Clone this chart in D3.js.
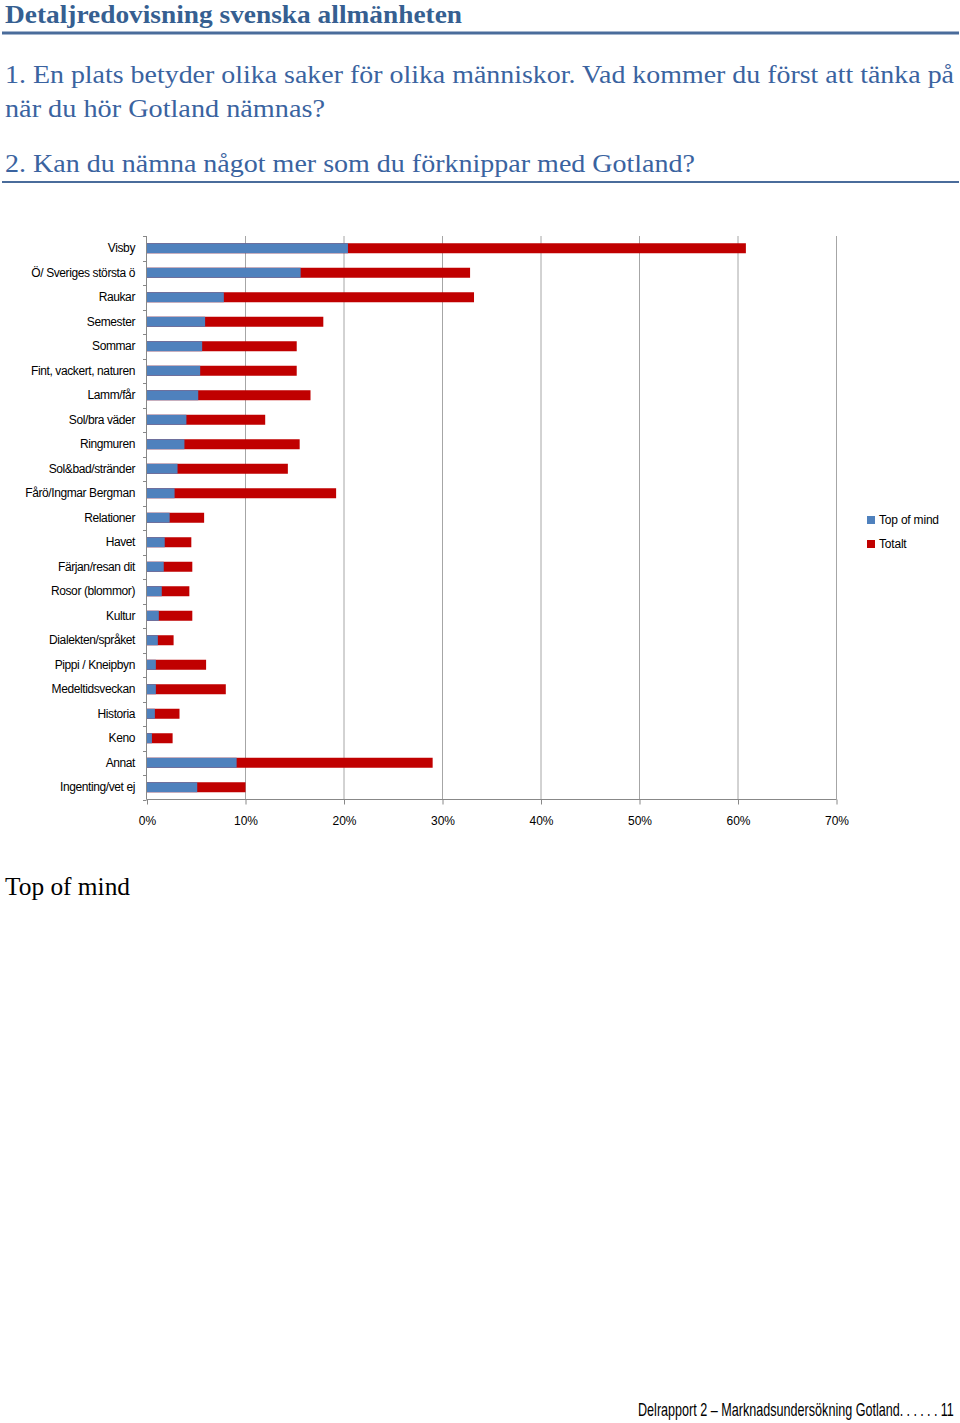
<!DOCTYPE html>
<html><head><meta charset="utf-8">
<script src="https://cdn.jsdelivr.net/npm/d3@7"></script>
<style>
html,body{margin:0;padding:0;background:#fff;}
svg{display:block;}
</style></head>
<body>
<div id="chart"></div>
<script>
const categories = ["Visby","Ö/ Sveriges största ö","Raukar","Semester","Sommar","Fint, vackert, naturen","Lamm/får","Sol/bra väder","Ringmuren","Sol&bad/stränder","Fårö/Ingmar Bergman","Relationer","Havet","Färjan/resan dit","Rosor (blommor)","Kultur","Dialekten/språket","Pippi / Kneipbyn","Medeltidsveckan","Historia","Keno","Annat","Ingenting/vet ej"];
const topOfMind = [20.4,15.6,7.8,5.9,5.6,5.4,5.2,4.0,3.8,3.1,2.8,2.3,1.8,1.7,1.5,1.2,1.1,0.9,0.9,0.8,0.5,9.1,5.1];
const totalt = [60.8,32.8,33.2,17.9,15.2,15.2,16.6,12.0,15.5,14.3,19.2,5.8,4.5,4.6,4.3,4.6,2.7,6.0,8.0,3.3,2.6,29.0,10.0];
const xTicks = [0,10,20,30,40,50,60,70];
const seriesNames = ["Top of mind","Totalt"];
const colors = ["#4F81BD","#C00000"];

const W = 960, H = 1423;
const svg = d3.select("#chart").append("svg").attr("width",W).attr("height",H);
const serif = "'Liberation Serif','Times New Roman',serif";
const sans = "'Liberation Sans',Arial,sans-serif";

function stretchText(txt, xx, yy, size, len, fill, weight){
  return svg.append("text").attr("x",xx).attr("y",yy).attr("font-family",serif)
    .attr("font-size",size).attr("font-weight",weight||"normal").attr("fill",fill)
    .attr("textLength",len).attr("lengthAdjust","spacingAndGlyphs").text(txt);
}

// Header
stretchText("Detaljredovisning svenska allmänheten",5,23,25,457,"#365F91","bold");
svg.append("rect").attr("x",2).attr("y",31.5).attr("width",957).attr("height",3).attr("fill","#4A6C9B");

const qColor = "#3A63A0";
stretchText("1. En plats betyder olika saker för olika människor. Vad kommer du först att tänka på",5,83,25.5,949,qColor);
stretchText("när du hör Gotland nämnas?",5,117,25.5,320,qColor);
stretchText("2. Kan du nämna något mer som du förknippar med Gotland?",5,172,25.5,690,qColor);
svg.append("rect").attr("x",2).attr("y",181).attr("width",957).attr("height",2).attr("fill","#4A6C9B");

// Chart
const x = d3.scaleLinear().domain([0,70]).range([147,836.5]);
const band = d3.scaleBand().domain(categories).range([236,799.5]);

// gridlines
svg.append("g").selectAll("line").data(xTicks.slice(1)).join("line")
  .attr("x1",d=>x(d)).attr("x2",d=>x(d)).attr("y1",236).attr("y2",799.5)
  .attr("stroke","#A6A6A6").attr("stroke-width",1);

const bh = 10;
const barG = svg.append("g");
barG.selectAll("rect.tot").data(categories).join("rect").attr("class","tot")
  .attr("x",x(0)).attr("y",d=>band(d)+band.bandwidth()/2-bh/2)
  .attr("width",(d,i)=>x(totalt[i])-x(0)).attr("height",bh).attr("fill",colors[1]);
barG.selectAll("rect.top").data(categories).join("rect").attr("class","top")
  .attr("x",x(0)).attr("y",d=>band(d)+band.bandwidth()/2-bh/2)
  .attr("width",(d,i)=>x(topOfMind[i])-x(0)).attr("height",bh).attr("fill",colors[0]);

// y axis
const yAxisG = svg.append("g");
yAxisG.append("line").attr("x1",146.5).attr("x2",146.5).attr("y1",236).attr("y2",799.5).attr("stroke","#888").attr("stroke-width",1);
const bounds = categories.map(c=>band(c)).concat([799.5]);
yAxisG.selectAll("line.tk").data(bounds).join("line").attr("class","tk")
  .attr("x1",143).attr("x2",146.5).attr("y1",d=>Math.round(d)+0.5).attr("y2",d=>Math.round(d)+0.5).attr("stroke","#888");
yAxisG.selectAll("text").data(categories).join("text")
  .attr("x",135).attr("y",d=>band(d)+band.bandwidth()/2+4)
  .attr("text-anchor","end").attr("font-family",sans).attr("font-size",12).attr("letter-spacing",-0.4)
  .attr("fill","#000").text(d=>d);

// x axis
const xAxis = d3.axisBottom(x).tickValues(xTicks).tickFormat(d=>d+"%").tickSize(5).tickPadding(12);
const xg = svg.append("g").attr("transform","translate(0,799.5)").call(xAxis);
xg.select(".domain").attr("stroke","#888").attr("d","M146.5,0H836.5");
xg.selectAll(".tick line").attr("stroke","#888");
xg.selectAll(".tick text").attr("font-family",sans).attr("font-size",12).attr("fill","#000");

// legend
const lg = svg.append("g");
seriesNames.forEach((s,i)=>{
  lg.append("rect").attr("x",867).attr("y",516+i*24).attr("width",8).attr("height",8).attr("fill",colors[i]);
  lg.append("text").attr("x",879).attr("y",524+i*24).attr("font-family",sans).attr("font-size",12).attr("letter-spacing",-0.2).text(s);
});

// Section title
svg.append("text").attr("x",5).attr("y",895).attr("font-family",serif).attr("font-size",25).attr("fill","#000")
  .attr("textLength",125).attr("lengthAdjust","spacingAndGlyphs").text("Top of mind");

// footer (horizontally compressed to mimic a narrow font)
const fg = svg.append("g");
const ft = fg.append("text").attr("x",0).attr("y",0).attr("font-family",sans).attr("font-size",19).attr("fill","#000");
ft.append("tspan").text("Delrapport 2 – Marknadsundersökning Gotland");
ft.append("tspan").attr("letter-spacing",5).text("......");
ft.append("tspan").text("11");
const nat = ft.node().getComputedTextLength();
const sx = 316 / nat;
fg.attr("transform",`translate(638,1416) scale(${sx},1)`);
</script>
</body></html>
